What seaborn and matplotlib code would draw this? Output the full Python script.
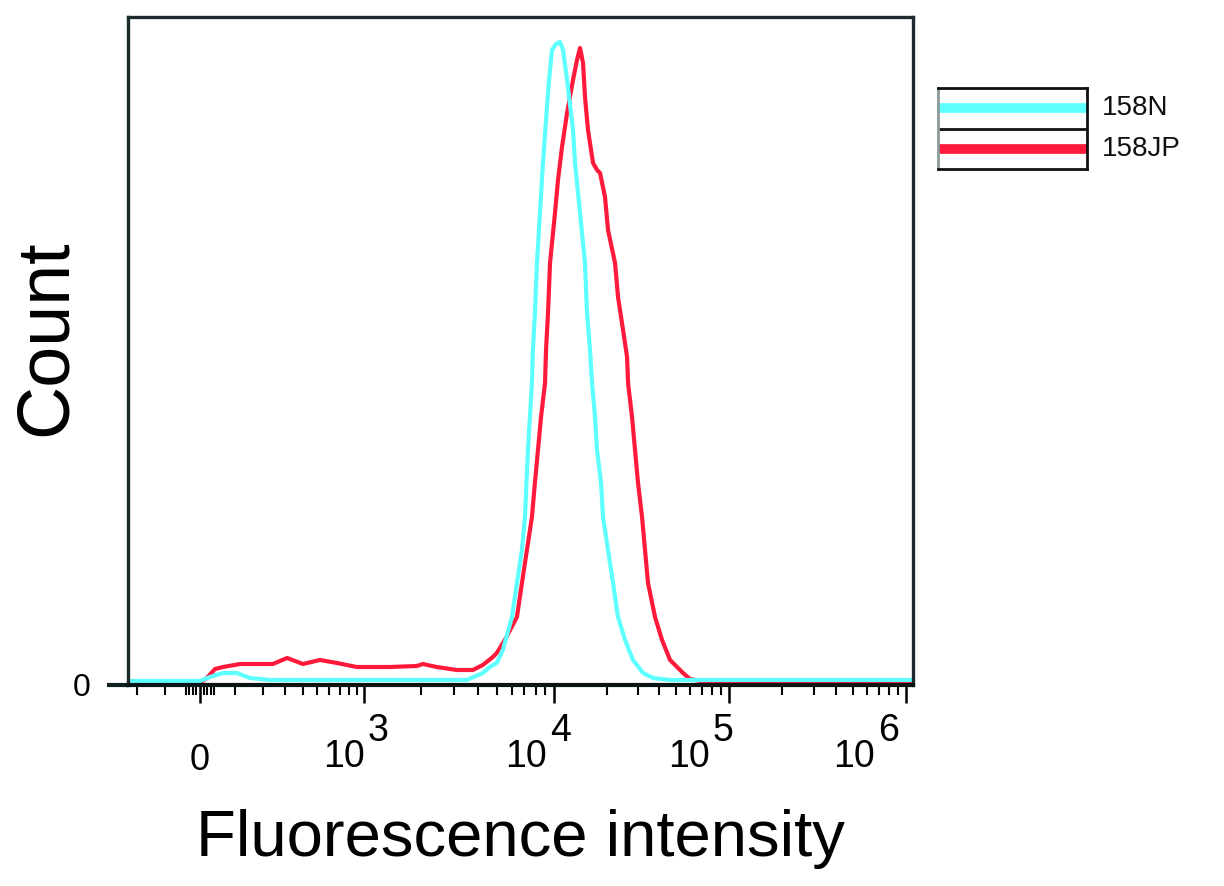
import numpy as np
import pandas as pd
import matplotlib
matplotlib.use('Agg')
import matplotlib.pyplot as plt
import seaborn as sns

# Histogram values (fluorescence, count)
N_X = [-236, 0, 28, 65, 107, 151, 228, 382, 1000, 1546,
       3480, 4230, 4600, 5010, 5390, 6020, 6390, 6790, 7040, 7300,
       7660, 7750, 7940, 8140, 8440, 8750, 9080, 9420, 9760, 10270,
       10820, 11260, 11870, 12840, 13180, 14080, 15030, 15440, 16060, 16490,
       17150, 17610, 18560, 19060, 20350, 21730, 23210, 25450, 28280, 32270,
       36790, 46000, 100000, 1000000, 1095000]
N_COUNT = [4, 4, 8, 12, 12, 7, 5, 5, 5, 5,
           5, 12, 18, 22, 35, 68, 102, 135, 168, 235,
           302, 335, 372, 422, 472, 522, 565, 605, 635, 641,
           643, 635, 605, 555, 522, 472, 422, 372, 335, 302,
           268, 235, 202, 168, 135, 102, 68, 45, 25, 12,
           7, 5, 5, 5, 5]

JP_X = [0, 19, 42, 65, 117, 240, 309, 400, 520, 673,
        900, 1370, 1900, 2050, 2420, 3090, 3750, 4230, 4780, 5010,
        5520, 6390, 6790, 7210, 7660, 7940, 8240, 8550, 8970, 9080,
        9300, 9530, 10130, 10540, 11110, 11870, 12840, 13530, 14080, 14650,
        15030, 15640, 16710, 17610, 18320, 19560, 20350, 22320, 23210, 24800,
        26140, 26490, 27910, 29030, 30200, 31840, 33110, 34440, 37770, 41410,
        46030, 54600, 59860, 68200, 1095000]
JP_COUNT = [2, 7, 16, 18, 21, 21, 27, 21, 25, 22,
            18, 18, 19, 21, 18, 15, 15, 20, 28, 32,
            45, 68, 102, 135, 168, 202, 235, 268, 302, 335,
            372, 422, 472, 505, 538, 572, 605, 625, 637, 622,
            588, 555, 522, 515, 512, 488, 455, 422, 388, 355,
            328, 302, 268, 235, 202, 168, 135, 102, 68, 45,
            25, 12, 6, 4, 4]

SAMPLES = ['158N', '158JP']
COLORS = {'158N': '#5effff', '158JP': '#ff1a3c'}

MAJOR_TICKS = [0, 1e3, 1e4, 1e5, 1e6]
DECADES = [3, 4, 5, 6]

# biexponential-like axis (asinh, pinned to the decade spacing of the original)
C = 194.0
U_ANCH = np.arcsinh(np.array([-1e4, 0, 1e3, 1e4, 1e5, 1e6, 1e7]) / C)
P_ANCH = np.array([-125, 200, 364, 554, 729, 906, 1082], dtype=float)


def fwd(x):
    return np.interp(np.arcsinh(np.asarray(x, dtype=float) / C), U_ANCH, P_ANCH)


def inv(p):
    return C * np.sinh(np.interp(np.asarray(p, dtype=float), P_ANCH, U_ANCH))


df = pd.concat([
    pd.DataFrame({'x': N_X, 'count': N_COUNT, 'sample': '158N'}),
    pd.DataFrame({'x': JP_X, 'count': JP_COUNT, 'sample': '158JP'}),
])

sns.set_theme(style='white')
plt.rcParams['font.family'] = ['Liberation Sans', 'DejaVu Sans']
plt.rcParams['text.color'] = 'black'
plt.rcParams['axes.labelcolor'] = 'black'
plt.rcParams['xtick.color'] = 'black'
plt.rcParams['ytick.color'] = 'black'

fig = plt.figure(figsize=(12.24, 8.86), dpi=100)
ax = fig.add_axes([128 / 1224, 1 - 685 / 886, 785 / 1224, 668 / 886])
ax.set_xscale('function', functions=(fwd, inv))

sns.lineplot(data=df, x='x', y='count', hue='sample', hue_order=['158JP', '158N'],
             palette=COLORS, estimator=None, sort=False, linewidth=3.0,
             legend=False, ax=ax)

ax.set_xlim(-236, 1.095e6)
ax.set_ylim(0, 668)

# ticks
minor = [-200, -100, -40, -30, -20, -10, 10, 20, 30, 40]
minor += [m * 100 for m in range(1, 10)]
for d in [1e3, 1e4, 1e5]:
    minor += [m * d for m in range(2, 10)]
ax.set_xticks(MAJOR_TICKS, labels=['0', '', '', '', ''])
ax.set_xticks(minor, minor=True)
ax.tick_params(axis='x', which='major', direction='out', length=13, width=1.8,
               color='black', bottom=True, labelsize=26, pad=29)
ax.tick_params(axis='x', which='minor', direction='out', length=7, width=1.5,
               color='black', bottom=True)
ax.set_yticks([0], labels=['0'])
ax.tick_params(axis='y', direction='out', length=15, width=3, color='#102020',
               left=True, labelsize=23, pad=12)

label_dx = [1, -7, -19, -31]
for val, n, dx in zip(MAJOR_TICKS[1:], DECADES, label_dx):
    ax.annotate('10', xy=(val, 0), xycoords=('data', 'axes fraction'),
                xytext=(dx, -72), textcoords='offset pixels',
                ha='right', va='center', fontsize=27, color='black')
    ax.annotate(str(n), xy=(val, 0), xycoords=('data', 'axes fraction'),
                xytext=(dx + 3, -46), textcoords='offset pixels',
                ha='left', va='center', fontsize=27, color='black')

for side in ['left', 'right', 'top']:
    ax.spines[side].set_color('#1c2b2b')
    ax.spines[side].set_linewidth(2.4)
ax.spines['bottom'].set_color('#0a1414')
ax.spines['bottom'].set_linewidth(3)

ax.set_xlabel('Fluorescence intensity', fontsize=47)
ax.xaxis.set_label_coords(0.5, -0.186)
ax.set_ylabel('Count', fontsize=53)
ax.yaxis.set_label_coords(-0.06, 0.52)

# boxed legend like the cytometry software
lax = fig.add_axes([938 / 1224, 1 - 169 / 886, 149 / 1224, 81 / 886])
lax.set_xlim(0, 1)
lax.set_ylim(0, 2)
lax.set_xticks([])
lax.set_yticks([])
for side in lax.spines:
    lax.spines[side].set_color('#111111')
    lax.spines[side].set_linewidth(2)
lax.spines['left'].set_color('#8a9a9a')
lax.axhline(1, color='#111111', linewidth=2)
for i, name in enumerate(SAMPLES):
    yy = 1.5 - i
    lax.plot([0, 1], [yy, yy], color=COLORS[name], linewidth=7, solid_capstyle='butt')
    lax.text(1.1, yy, name, transform=lax.transData, fontsize=20, ha='left',
             va='center', clip_on=False, color='#111111')

fig.savefig('out.png', dpi=100)
